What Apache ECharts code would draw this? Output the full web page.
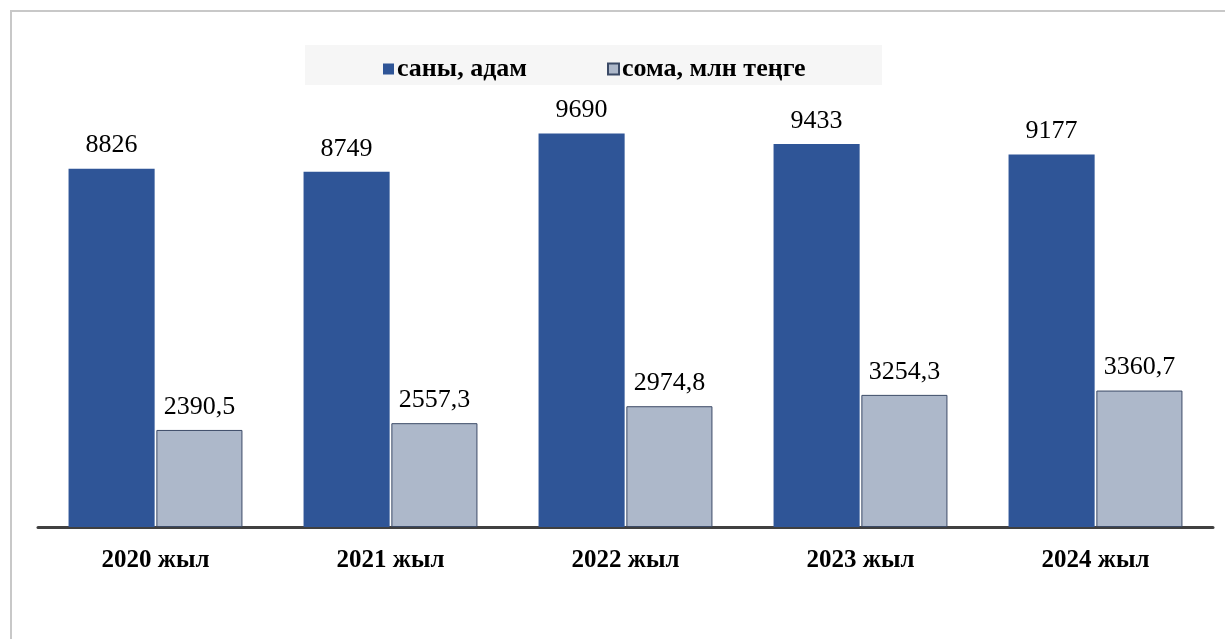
<!DOCTYPE html>
<html><head><meta charset="utf-8">
<script src="https://cdn.jsdelivr.net/npm/echarts@6/dist/echarts.min.js"></script>
<style>html,body{margin:0;padding:0;background:#fff}#c{width:1225px;height:639px}</style>
</head><body><div id="c"></div>
<script>
const categories = ['2020 жыл','2021 жыл','2022 жыл','2023 жыл','2024 жыл'];
const countName = 'саны, адам';
const sumName = 'сома, млн теңге';
const countValues = [8826, 8749, 9690, 9433, 9177];
const sumValues = [2390.5, 2557.3, 2974.8, 3254.3, 3360.7];

const chart = echarts.init(document.getElementById('c'));
const serif = '"Liberation Serif","Times New Roman",serif';
const fmtComma = p => String(p.value).replace('.', ',');
chart.setOption({
  animation: false,
  backgroundColor: '#fff',
  graphic: [
    {type:'rect', shape:{x:11,y:11,width:1230,height:650}, style:{fill:'none', stroke:'#c8c8c8', lineWidth:2}, z:-10},
    {type:'rect', shape:{x:305,y:45,width:577,height:40}, style:{fill:'#f6f6f6'}, z:-5}
  ],
  legend: {
    top: 51, left: 378,
    itemWidth: 11, itemHeight: 11, itemGap: 80,
    icon: 'rect',
    textStyle: {fontFamily: serif, fontSize: 26, fontWeight: 'bold', color: '#000', padding: [0,0,0,-2]},
    data: [countName, sumName]
  },
  grid: {left: 38, right: 12, top: 121, bottom: 112},
  xAxis: {
    type: 'category', data: categories,
    axisLine: {lineStyle: {color: '#404040', width: 3}},
    axisTick: {show: false},
    axisLabel: {fontFamily: serif, fontSize: 25, fontWeight: 'bold', color: '#000', margin: 21}
  },
  yAxis: {type: 'value', min: 0, max: 10000, show: false, splitLine: {show: false}},
  series: [
    {name: countName, type: 'bar', data: countValues, barGap: '2%', barCategoryGap: '26%',
     itemStyle: {color: '#2f5597'},
     label: {show: true, position: 'top', distance: 10, fontFamily: serif, fontSize: 26, color: '#000', formatter: fmtComma}},
    {name: sumName, type: 'bar', data: sumValues,
     itemStyle: {color: '#adb8ca', borderColor: '#3b4a66', borderWidth: 1},
     label: {show: true, position: 'top', distance: 10, fontFamily: serif, fontSize: 26, color: '#000', formatter: fmtComma}}
  ]
});
</script></body></html>
